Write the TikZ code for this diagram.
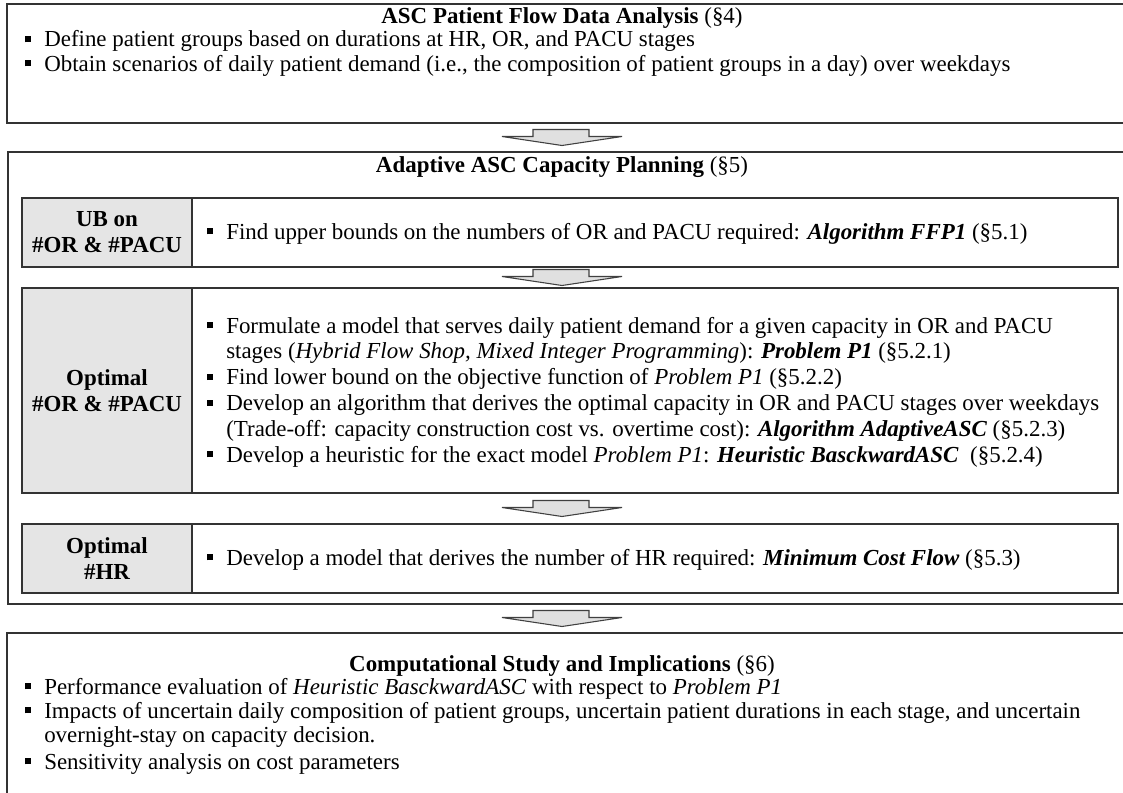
\documentclass[tikz,border=0pt]{standalone}
\usepackage{fontspec}
\setmainfont{Liberation Serif}
\usetikzlibrary{fit,calc}
% square bullet followed by the gap before the item text
\newcommand{\sqb}{\makebox[14.25pt][l]{\raisebox{0.2em}{\rule{4.6pt}{4.6pt}}}}
\newcommand{\ind}{\hspace*{14.25pt}}
\newcommand{\bi}[1]{\textbf{\textit{#1}}}

\begin{document}
\begin{tikzpicture}[x=0.75pt,y=-0.75pt,
  panel/.style={draw=black!80, line width=1.1pt, inner sep=0pt},
  stagebox/.style={panel, fill=black!10},
  itembox/.style={panel},
  basefont/.style={font=\fontsize{17.2pt}{18pt}\selectfont},
  title/.style={basefont, inner sep=0pt, anchor=base},
  line/.style={basefont, inner sep=0pt, anchor=base west},
  stagelabel/.style={font=\fontsize{17.2pt}{19.5pt}\selectfont\bfseries, align=center, inner sep=0pt},
  flowarrow/.pic={
    \draw[draw=black!75, fill=black!12, line width=0.8pt, line join=miter]
      (-29,-8) -- (27,-8) -- (27,-1) -- (60,-1) -- (0,8) -- (-60,-1) -- (-29,-1) -- cycle;
  }
]
\clip (0,0) rectangle (1123,792);
\fill[white] (0,0) rectangle (1123,792);

% ---- section frames ----
\coordinate (topNW) at (7,4);    \coordinate (topSE) at (1132,123);
\coordinate (midNW) at (8,152);  \coordinate (midSE) at (1132,604);
\coordinate (botNW) at (7,633);  \coordinate (botSE) at (1132,810);
\node[panel, fit=(topNW)(topSE)] (top) {};
\node[panel, fit=(midNW)(midSE)] (mid) {};
\node[panel, fit=(botNW)(botSE)] (bot) {};

% ---- inner rows of the planning section ----
\coordinate (ubNW) at (22,198);   \coordinate (ubSE) at (192,267);
\coordinate (ubrSE) at (1118,267);
\coordinate (orNW) at (22,288);   \coordinate (orSE) at (192,493);
\coordinate (orrSE) at (1118,493);
\coordinate (hrNW) at (22,524);   \coordinate (hrSE) at (192,593);
\coordinate (hrrSE) at (1118,593);
\node[itembox, fit=(ubNW)(ubrSE)] (ubrow) {};
\node[itembox, fit=(orNW)(orrSE)] (orrow) {};
\node[itembox, fit=(hrNW)(hrrSE)] (hrrow) {};
\node[stagebox, fit=(ubNW)(ubSE)] (ub) {};
\node[stagebox, fit=(orNW)(orSE)] (opt) {};
\node[stagebox, fit=(hrNW)(hrSE)] (hr) {};
\node[stagelabel] (ublabel) at (ub.center) {UB on\\\#OR \& \#PACU};
\node[stagelabel] (optlabel) at (opt.center) {Optimal\\\#OR \& \#PACU};
\node[stagelabel] (hrlabel) at (hr.center) {Optimal\\\#HR};

% ---- flow arrows ----
\coordinate (cx) at (562,0);
\pic at ($(top.south -| cx)!0.5!(mid.north -| cx)$) {flowarrow};
\pic at ($(ub.south -| cx)!0.5!(opt.north -| cx)$) {flowarrow};
\pic at ($(opt.south -| cx)!0.5!(hr.north -| cx)$) {flowarrow};
\pic at ($(mid.south -| cx)!0.5!(bot.north -| cx)$) {flowarrow};

% ---- texts: data analysis ----
\node[title] (toptitle) at (562,24) {\textbf{ASC Patient Flow Data Analysis} (§4)};
\node[line] (top1) at (25,47) {\sqb Define patient groups based on durations at HR, OR, and PACU stages};
\node[line] (top2) at (25,71) {\sqb Obtain scenarios of daily patient demand (i.e., the composition of patient groups in a day) over weekdays};

% ---- texts: capacity planning ----
\node[title] (midtitle) at (562,172) {\textbf{Adaptive ASC Capacity Planning} (§5)};
\node[line] (ub1) at (207,239) {\sqb Find upper bounds on the numbers of OR and PACU required: \bi{Algorithm FFP1} (§5.1)};
\node[line] (opt1) at (207,333) {\sqb Formulate a model that serves daily patient demand for a given capacity in OR and PACU};
\node[line] (opt2) at (207,358.8) {\ind stages (\textit{Hybrid Flow Shop, Mixed Integer Programming}): \bi{Problem P1} (§5.2.1)};
\node[line] (opt3) at (207,384.6) {\sqb Find lower bound on the objective function of \textit{Problem P1} (§5.2.2)};
\node[line] (opt4) at (207,410.4) {\sqb Develop an algorithm that derives the optimal capacity in OR and PACU stages over weekdays};
\node[line] (opt5) at (207,436.2) {\ind (Trade-off: capacity construction cost vs. overtime cost): \bi{Algorithm AdaptiveASC} (§5.2.3)};
\node[line] (opt6) at (207,462) {\sqb Develop a heuristic for the exact model \textit{Problem P1}: \bi{Heuristic BasckwardASC}\ \ (§5.2.4)};
\node[line] (hr1) at (207,565) {\sqb Develop a model that derives the number of HR required: \bi{Minimum Cost Flow} (§5.3)};

% ---- texts: computational study ----
\node[title] (bottitle) at (562,671) {\textbf{Computational Study and Implications} (§6)};
\node[line] (bot1) at (25,694) {\sqb Performance evaluation of \textit{Heuristic BasckwardASC} with respect to \textit{Problem P1}};
\node[line] (bot2) at (25,718) {\sqb Impacts of uncertain daily composition of patient groups, uncertain patient durations in each stage, and uncertain};
\node[line] (bot3) at (25,742) {\ind overnight-stay on capacity decision.};
\node[line] (bot4) at (25,769) {\sqb Sensitivity analysis on cost parameters};
\end{tikzpicture}
\end{document}
